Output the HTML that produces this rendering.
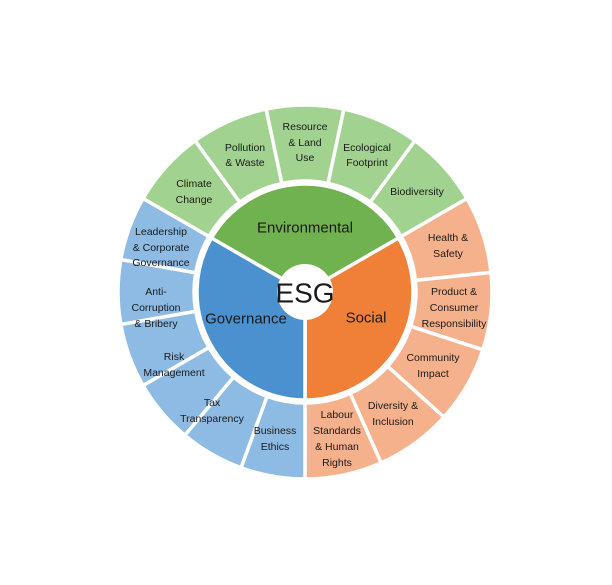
<!DOCTYPE html>
<html><head><meta charset="utf-8"><style>
html,body{margin:0;padding:0;background:#fff}
svg{display:block}
text{font-family:"Liberation Sans",sans-serif;fill:#1a1a1a;text-anchor:middle;dominant-baseline:central}
.s{font-size:10.5px}
</style></head><body>
<svg id="s" width="612" height="585" viewBox="0 0 612 585" xmlns="http://www.w3.org/2000/svg">
<g id="g"></g>
<circle cx="305" cy="292" r="28" fill="#fff"/>
<text x="305" y="293" style="font-size:28px">ESG</text>
<text x="305" y="228" style="font-size:15px">Environmental</text>
<text x="246" y="319" style="font-size:15px">Governance</text>
<text x="366" y="318" style="font-size:15px">Social</text>
<g class="s">
<text x="194" y="184">Climate</text><text x="194" y="200">Change</text>
<text x="245" y="148">Pollution</text><text x="245" y="163">&amp; Waste</text>
<text x="305" y="127">Resource</text><text x="305" y="143">&amp; Land</text><text x="305" y="158">Use</text>
<text x="367" y="148">Ecological</text><text x="367" y="163">Footprint</text>
<text x="417" y="192">Biodiversity</text>
<text x="448" y="238">Health &amp;</text><text x="448" y="254">Safety</text>
<text x="454" y="292">Product &amp;</text><text x="454" y="308">Consumer</text><text x="454" y="324">Responsibility</text>
<text x="433" y="358">Community</text><text x="433" y="374">Impact</text>
<text x="393" y="406">Diversity &amp;</text><text x="393" y="422">Inclusion</text>
<text x="337" y="415">Labour</text><text x="337" y="431">Standards</text><text x="337" y="447">&amp; Human</text><text x="337" y="463">Rights</text>
<text x="275" y="431">Business</text><text x="275" y="447">Ethics</text>
<text x="212" y="403">Tax</text><text x="212" y="419">Transparency</text>
<text x="174" y="357">Risk</text><text x="174" y="373">Management</text>
<text x="156" y="292">Anti-</text><text x="156" y="308">Corruption</text><text x="156" y="324">&amp; Bribery</text>
<text x="161" y="232">Leadership</text><text x="161" y="248">&amp; Corporate</text><text x="161" y="263">Governance</text>
</g>
</svg>
<script>
(function(){
var cx=305,cy=292,g=document.getElementById('g'),ns='http://www.w3.org/2000/svg';
function p(a,r){var t=a*Math.PI/180;return [cx+r*Math.sin(t),cy-r*Math.cos(t)];}
function add(d,f){var e=document.createElementNS(ns,'path');e.setAttribute('d',d);e.setAttribute('fill',f);e.setAttribute('stroke','#fff');e.setAttribute('stroke-width','3.5');g.appendChild(e);}
var pies=[[-60,60,'#6fb24f'],[60,180,'#f07f38'],[180,300,'#4b91d0']];
var R=108;
pies.forEach(function(q){var a=p(q[0],R),b=p(q[1],R);add('M'+cx+','+cy+'L'+a+'A'+R+','+R+' 0 0 1 '+b+'Z',q[2]);});
var ri=111,ro=187;
function seg(a0,a1,f){var A=p(a0,ri),B=p(a0,ro),C=p(a1,ro),D=p(a1,ri);add('M'+A+'L'+B+'A'+ro+','+ro+' 0 0 1 '+C+'L'+D+'A'+ri+','+ri+' 0 0 0 '+A+'Z',f);}
for(var i=0;i<5;i++)seg(-60+24*i,-36+24*i,'#a2d290');
for(var i=0;i<5;i++)seg(60+24*i,84+24*i,'#f5b18b');
for(var i=0;i<6;i++)seg(180+20*i,200+20*i,'#8ebbe3');
})();
</script>
</body></html>
